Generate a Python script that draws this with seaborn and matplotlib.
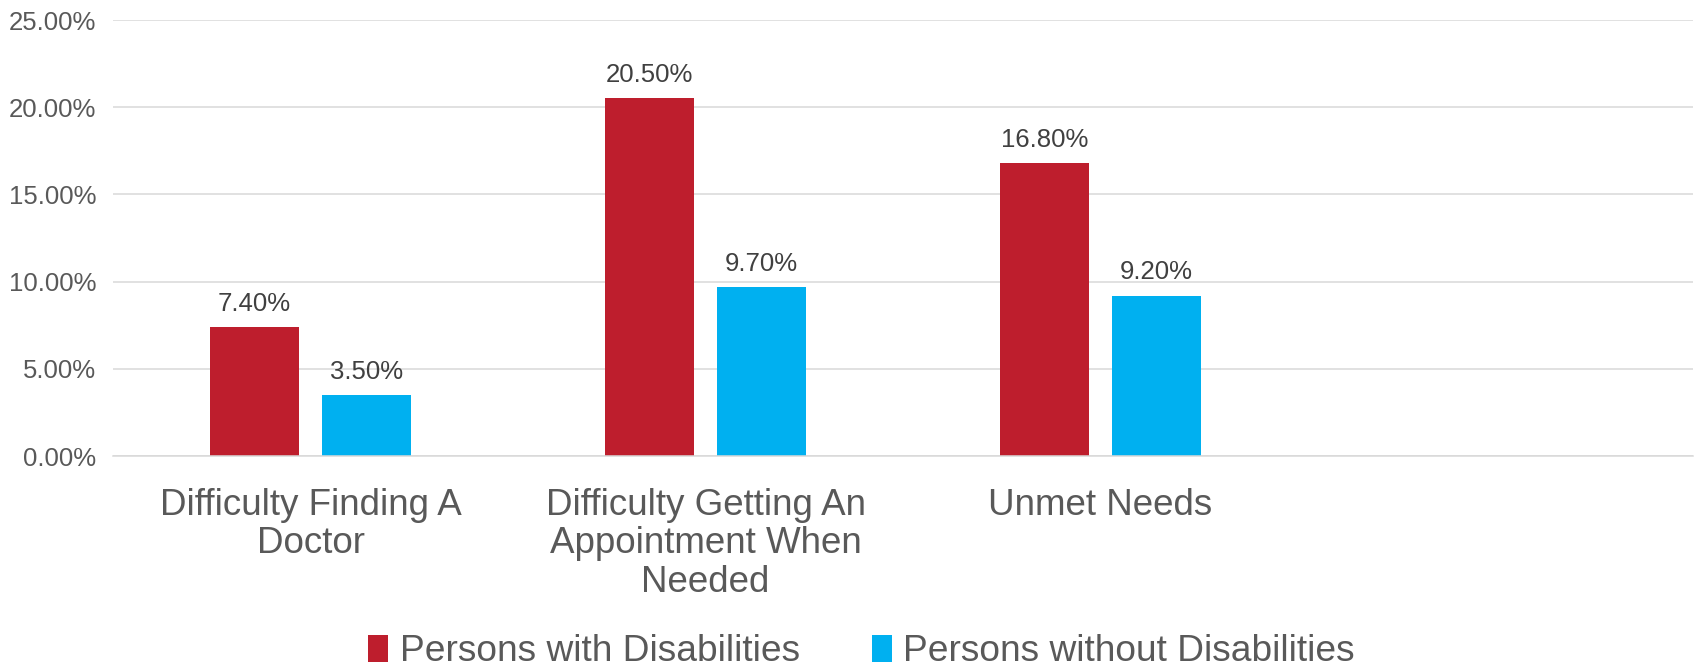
import matplotlib
matplotlib.use("Agg")
import matplotlib.pyplot as plt
from matplotlib.ticker import FuncFormatter, MultipleLocator
from matplotlib.patches import Patch
import seaborn as sns
import pandas as pd

categories = [
    "Difficulty Finding A\nDoctor",
    "Difficulty Getting An\nAppointment When\nNeeded",
    "Unmet Needs",
]
groups = ["Persons with Disabilities", "Persons without Disabilities"]
with_disabilities = [7.4, 20.5, 16.8]
without_disabilities = [3.5, 9.7, 9.2]

colors = ["#BE1E2D", "#00B0F0"]

df = pd.DataFrame({
    "category": categories * 2,
    "group": [groups[0]] * 3 + [groups[1]] * 3,
    "value": with_disabilities + without_disabilities,
})

sns.set_theme(style="white")
plt.rcParams["font.family"] = ["Liberation Sans", "DejaVu Sans"]

fig = plt.figure(figsize=(16.96, 6.68), dpi=100)
ax = fig.add_axes([113 / 1696, 1 - 456 / 668, 1580 / 1696, 436 / 668])

sns.barplot(
    data=df, x="category", y="value", hue="group", order=categories,
    hue_order=groups, palette=colors, width=0.567, gap=0.214,
    saturation=1, ax=ax, legend=False, linewidth=0, errorbar=None,
)

for container in ax.containers:
    ax.bar_label(container, fmt="%.2f%%", padding=8, fontsize=18.5,
                 color="#404040")

ax.set_xlim(-0.5, 3.5)
ax.set_ylim(0, 25)
ax.yaxis.set_major_locator(MultipleLocator(5))
ax.yaxis.set_major_formatter(FuncFormatter(lambda v, _: f"{v:.2f}%"))
ax.grid(axis="y", color="#D9D9D9", linewidth=1.1)
ax.set_axisbelow(True)
for side in ["top", "right", "left"]:
    ax.spines[side].set_visible(False)
ax.spines["bottom"].set_color("#D9D9D9")
ax.spines["bottom"].set_linewidth(1.1)
ax.set_xlabel("")
ax.set_ylabel("")
ax.tick_params(axis="y", length=0, pad=12, labelsize=18.5, labelcolor="#595959")
ax.tick_params(axis="x", length=0, pad=23, labelsize=26.5, labelcolor="#595959")
for lbl in ax.get_xticklabels():
    lbl.set_linespacing(1.13)

handles = [Patch(facecolor=c, edgecolor="none") for c in colors]
fig.legend(
    handles, groups, loc="lower center", bbox_to_anchor=(0.508, -0.052),
    ncol=2, frameon=False, fontsize=26.7, labelcolor="#595959",
    handlelength=0.55, handleheight=0.75, handletextpad=0.3,
    columnspacing=1.95,
)

fig.savefig("out.png", dpi=100, facecolor="white")
